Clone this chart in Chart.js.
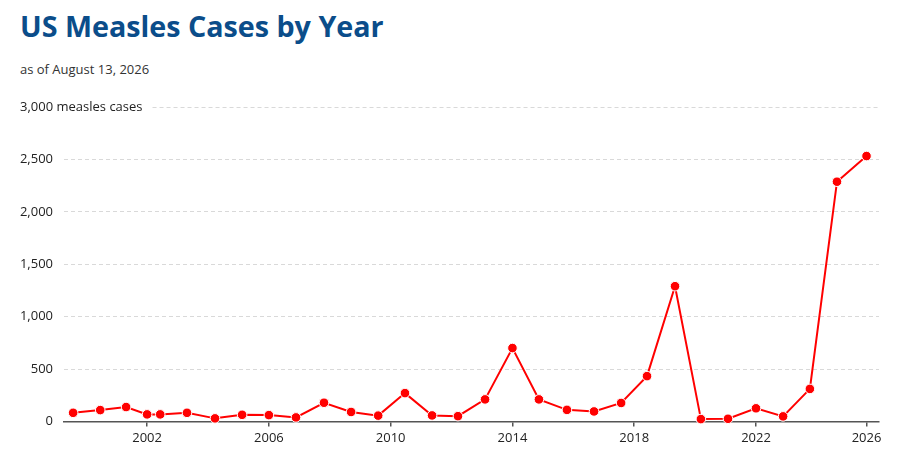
<!DOCTYPE html>
<html>
<head>
<meta charset="utf-8">
<script src="https://cdn.jsdelivr.net/npm/chart.js@4"></script>
<style>
  html, body { margin: 0; padding: 0; background: #fff; }
  body { width: 904px; height: 462px; position: relative; overflow: hidden; font-family: "Open Sans", sans-serif; }
  #title { position: absolute; left: 20px; top: 6px; margin: 0; font-size: 28.7px; font-weight: 700; color: #0b4d8a; }
  #subtitle { position: absolute; left: 20px; top: 60px; margin: 0; font-size: 13px; color: #333; }
  #wrap { position: absolute; left: 0; top: 0; width: 904px; height: 462px; }
</style>
</head>
<body>
<h1 id="title">US Measles Cases by Year</h1>
<div id="subtitle">as of August 13, 2026</div>
<div id="wrap"><canvas id="chart"></canvas></div>
<script>
// x positions (years, the points are not on whole years)
const years = [1999.57, 2000.46, 2001.31, 2002.0, 2002.43, 2003.31, 2004.23, 2005.12, 2006.0, 2006.89,
               2007.81, 2008.70, 2009.59, 2010.47, 2011.36, 2012.21, 2013.10, 2014.0, 2014.87, 2015.79,
               2016.68, 2017.57, 2018.42, 2019.34, 2020.19, 2021.08, 2022.0, 2022.89, 2023.77, 2024.66,
               2025.63];
const cases = [82, 108, 137, 67, 67, 82, 29, 63, 60, 38,
               178, 90, 55, 270, 57, 50, 210, 700, 210, 110,
               95, 176, 432, 1290, 22, 25, 125, 48, 310, 2287,
               2532];

const xTickValues = [2002, 2006, 2010, 2014, 2018, 2022, 2025.63];
const xTickLabels = ["2002", "2006", "2010", "2014", "2018", "2022", "2026"];
const yTickValues = [0, 500, 1000, 1500, 2000, 2500, 3000];
const yUnit = "measles cases";

const FONT = "Open Sans";

// top y label + its gridline are drawn here, after the label text
const topLabel = {
    id: "topLabel",
    afterDraw(chart) {
        const ctx = chart.ctx;
        const y = chart.scales.y;
        const top = yTickValues[yTickValues.length - 1];
        const py = y.getPixelForValue(top);
        const text = top.toLocaleString("en-US") + " " + yUnit;
        ctx.save();
        ctx.font = "13px '" + FONT + "'";
        ctx.fillStyle = "#222";
        ctx.textAlign = "left";
        ctx.textBaseline = "middle";
        ctx.fillText(text, 20, py);
        const w = ctx.measureText(text).width;
        ctx.strokeStyle = "#d9d9d9";
        ctx.lineWidth = 1;
        ctx.setLineDash([4, 3]);
        ctx.beginPath();
        ctx.moveTo(20 + w + 10, Math.round(py) + 0.5);
        ctx.lineTo(chart.chartArea.right, Math.round(py) + 0.5);
        ctx.stroke();
        ctx.restore();
    }
};

new Chart(document.getElementById("chart").getContext("2d"), {
    type: "line",
    data: {
        datasets: [{
            data: years.map((yr, i) => ({ x: yr, y: cases[i] })),
            borderColor: "#ff0000",
            borderWidth: 2,
            backgroundColor: "#ff0000",
            pointBackgroundColor: "#ff0000",
            pointBorderColor: "#ffffff",
            pointBorderWidth: 1,
            pointRadius: 4.8,
            tension: 0,
            clip: false
        }]
    },
    options: {
        responsive: true,
        maintainAspectRatio: false,
        animation: false,
        layout: { padding: { top: 107, right: 25, bottom: 12, left: 0 } },
        plugins: { legend: { display: false }, tooltip: { enabled: false } },
        scales: {
            x: {
                type: "linear",
                min: 1999.27,
                max: 2026.04,
                afterBuildTicks: s => { s.ticks = xTickValues.map(v => ({ value: v })); },
                ticks: {
                    callback: (v, i) => xTickLabels[i],
                    color: "#222",
                    font: { family: FONT, size: 13 },
                    maxRotation: 0,
                    autoSkip: false,
                    padding: 4
                },
                grid: { drawOnChartArea: false, drawTicks: true, tickLength: 5, color: "#555", lineWidth: 1.5 },
                border: { display: true, color: "#555", width: 1.5 }
            },
            y: {
                min: 0,
                max: 3000,
                afterBuildTicks: s => { s.ticks = yTickValues.map(v => ({ value: v })); },
                afterFit: s => { s.width = 64; },
                ticks: {
                    callback: v => v === yTickValues[yTickValues.length - 1] ? "" : v.toLocaleString("en-US"),
                    color: "#222",
                    font: { family: FONT, size: 13 },
                    padding: 11
                },
                grid: {
                    drawTicks: false,
                    color: ctx => (ctx.tick && (ctx.tick.value === 0 || ctx.tick.value === 3000)) ? "rgba(0,0,0,0)" : "#d9d9d9",
                    lineWidth: 1
                },
                border: { display: false, dash: [4, 3] }
            }
        }
    },
    plugins: [topLabel]
});
</script>
</body>
</html>
